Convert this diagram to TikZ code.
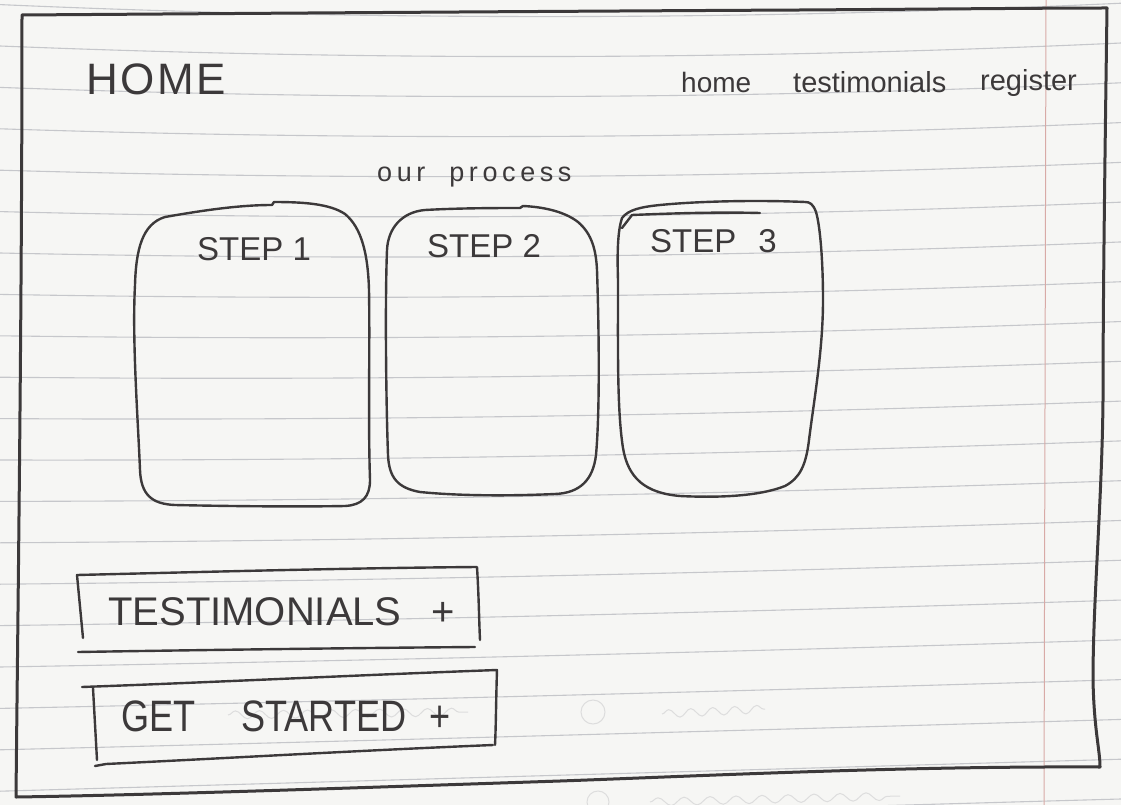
\documentclass[tikz,border=0pt]{standalone}
\usepackage{fontspec}
\setmainfont{Liberation Sans}
\newfontfamily\hand{Liberation Sans}
\newfontfamily\handwideset[LetterSpace=6]{Liberation Sans}
\newfontfamily\handnarrow[FakeStretch=0.82]{Liberation Sans}
\newfontfamily\handspaced[LetterSpace=17]{Liberation Sans}
\usetikzlibrary{decorations.pathmorphing}

\definecolor{paper}{HTML}{F6F6F4}
\definecolor{ruling}{HTML}{C6C7CB}
\definecolor{marginred}{HTML}{D8AAA6}
\definecolor{ink}{HTML}{3C393A}
\definecolor{ghost}{HTML}{DDDDDD}

\begin{document}
\begin{tikzpicture}[x=1pt,y=-1pt,
  pen/.style={draw=ink, line width=2.4pt, line cap=round, line join=round},
  framepen/.style={pen, line width=3pt},
  ruleline/.style={draw=ruling, line width=1.1pt},
  ghostline/.style={draw=ghost, line width=1pt},
  scrawl/.style={text=ink, inner sep=0pt, anchor=base west}]

% sheet of ruled paper
\fill[paper] (0,0) rectangle (1121,805);
\useasboundingbox (0,0) rectangle (1121,805);
\foreach \k in {-1,...,19}{
  \pgfmathsetmacro\yo{46+41.4*\k}
  \pgfmathsetmacro\bw{12-12*\k/18}
  \pgfmathsetmacro\ee{-3-29*\k/18}
  \pgfmathsetmacro\ca{\yo+(4*\bw+\ee)/3}
  \pgfmathsetmacro\cb{\yo+(4*\bw+2*\ee)/3}
  \pgfmathsetmacro\ye{\yo+\ee}
  \draw[ruleline] (0,\yo) .. controls (373.7,\ca) and (747.3,\cb) .. (1121,\ye);
}
\draw[draw=marginred, line width=1pt] (1046,0) -- (1044,805);

% show-through from the back of the sheet
\draw[ghostline] (593,712) circle (12);
\draw[ghostline, decorate, decoration={snake, amplitude=4pt, segment length=22pt}] (662,714) -- (765,709);
\draw[ghostline, decorate, decoration={snake, amplitude=4pt, segment length=24pt}] (228,715) -- (468,712);
\draw[ghostline] (598,802) circle (11);
\draw[ghostline, decorate, decoration={snake, amplitude=4pt, segment length=26pt}] (650,802) -- (900,796);

% page frame
\draw[framepen] (22,15) .. controls (300,13) and (600,11) .. (800,10)
  .. controls (950,9) and (1050,8) .. (1107,8)
  .. controls (1105,150) and (1103,300) .. (1103,400)
  .. controls (1102,500) and (1093,600) .. (1093,680)
  .. controls (1094,730) and (1100,750) .. (1100,767)
  .. controls (900,766) and (700,776) .. (560,781)
  .. controls (350,788) and (150,795) .. (16,797)
  .. controls (18,600) and (22,300) .. (22,15) -- cycle;

% header
\node[scrawl, font=\handwideset\fontsize{44}{44}\selectfont] (title) at (86,95) {HOME};
\node[scrawl, font=\hand\fontsize{28}{28}\selectfont] (navhome) at (681,93) {home};
\node[scrawl, font=\hand\fontsize{29}{29}\selectfont] (navtesti) at (793,93) {testimonials};
\node[scrawl, font=\hand\fontsize{29}{29}\selectfont] (navreg) at (980,91) {register};

% process section
\node[scrawl, font=\handspaced\fontsize{27}{27}\selectfont] (process) at (377,182) {our\hspace{24pt}process};

\draw[pen] (165,217) .. controls (205,210) and (240,205) .. (272,205) -- (274,202)
  .. controls (305,202) and (330,204) .. (345,214)
  .. controls (362,228) and (368,255) .. (369,290)
  .. controls (370,350) and (368,420) .. (370,480)
  .. controls (370,497) and (362,505) .. (345,506)
  .. controls (290,507) and (220,506) .. (175,505)
  .. controls (152,504) and (141,495) .. (140,470)
  .. controls (138,420) and (132,340) .. (135,285)
  .. controls (136,250) and (142,224) .. (165,217) -- cycle;
\node[scrawl, font=\hand\fontsize{33}{33}\selectfont] (step1) at (197,260) {STEP 1};

\draw[pen] (425,210) .. controls (460,208) and (500,208) .. (520,208) -- (523,206)
  .. controls (545,207) and (565,212) .. (578,222)
  .. controls (592,234) and (596,250) .. (597,270)
  .. controls (599,330) and (600,410) .. (596,455)
  .. controls (593,480) and (580,493) .. (555,494)
  .. controls (510,496) and (460,496) .. (420,492)
  .. controls (398,488) and (389,478) .. (388,455)
  .. controls (386,400) and (385,300) .. (387,250)
  .. controls (388,228) and (402,212) .. (425,210) -- cycle;
\node[scrawl, font=\hand\fontsize{33}{33}\selectfont] (step2) at (427,257) {STEP 2};

\draw[pen] (805,202) .. controls (760,200) and (700,201) .. (660,205)
  .. controls (640,207) and (628,210) .. (622,218)
  .. controls (618,230) and (617,250) .. (618,280)
  .. controls (618,350) and (617,410) .. (623,448)
  .. controls (628,478) and (645,493) .. (680,496)
  .. controls (720,498) and (760,496) .. (785,486)
  .. controls (800,478) and (806,465) .. (809,440)
  .. controls (814,400) and (823,350) .. (823,300)
  .. controls (823,260) and (820,225) .. (816,212)
  .. controls (813,204) and (810,202) .. (805,202) -- cycle;
\draw[pen] (622,228) -- (632,215) .. controls (680,213) and (720,212) .. (760,213);
\node[scrawl, font=\hand\fontsize{33}{33}\selectfont] (step3) at (650,252) {STEP\hspace{22pt}3};

% call-to-action buttons
\draw[pen] (83,638) -- (77,575) .. controls (200,572) and (350,568) .. (477,567)
  .. controls (479,600) and (479,620) .. (480,640);
\draw[pen] (78,652) .. controls (200,650) and (350,648) .. (475,647);
\node[scrawl, font=\hand\fontsize{40}{40}\selectfont] (testi) at (108,625) {TESTIMONIALS\hspace{30pt}+};

\draw[pen] (82,687) .. controls (220,682) and (360,675) .. (497,670)
  .. controls (496,700) and (496,725) .. (495,745);
\draw[pen] (93,688) -- (97,760);
\draw[pen] (95,766) -- (106,764) .. controls (230,758) and (370,750) .. (493,745);
\node[scrawl, font=\handnarrow\fontsize{44}{44}\selectfont] (start) at (121,731) {GET\hspace{46pt}STARTED\hspace{23pt}+};

\end{tikzpicture}
\end{document}
